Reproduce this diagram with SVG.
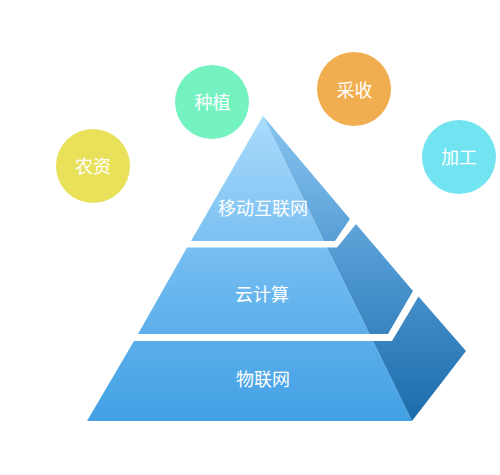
<svg xmlns="http://www.w3.org/2000/svg" width="500" height="475" viewBox="0 0 500 475">
<defs>
<linearGradient id="gFront" gradientUnits="userSpaceOnUse" x1="0" y1="116" x2="0" y2="421">
<stop offset="0" stop-color="#ABDCFC"/>
<stop offset="0.5" stop-color="#70BAF0"/>
<stop offset="1" stop-color="#42A0E4"/>
</linearGradient>
<linearGradient id="gSide" gradientUnits="userSpaceOnUse" x1="0" y1="116" x2="0" y2="421">
<stop offset="0" stop-color="#88C5F1"/>
<stop offset="0.5" stop-color="#4E97D0"/>
<stop offset="1" stop-color="#1B6BAB"/>
</linearGradient>
<style>
.front{fill:url(#gFront)}
.side{fill:url(#gSide)}
.lbl{font-family:"Noto Sans CJK SC","Noto Sans",sans-serif;font-size:18px;fill:#ffffff;text-anchor:middle}
</style>
</defs>
<rect width="500" height="475" fill="#ffffff"/>
<g id="node-nongzi"><circle cx="93" cy="166" r="37" fill="#E9E15A"/><text class="lbl" x="93" y="172.5">农资</text></g>
<g id="node-zhongzhi"><circle cx="212" cy="102" r="37" fill="#74F3C1"/><text class="lbl" x="212.5" y="109">种植</text></g>
<g id="node-caishou"><circle cx="354" cy="89" r="37" fill="#F0AE50"/><text class="lbl" x="354.5" y="97">采收</text></g>
<g id="node-jiagong"><circle cx="459" cy="157" r="37" fill="#72E4F1"/><text class="lbl" x="459" y="164">加工</text></g>
<g id="node-yidong">
<polygon class="front" points="263,116 324,241 191,241"/>
<polygon class="side" points="263,116 350,219 335,241 324,241"/>
<text class="lbl" x="263" y="214.5">移动互联网</text>
</g>
<g id="node-yunjisuan">
<polygon class="front" points="187,247.5 327,247.5 369.5,334 138,334"/>
<polygon class="side" points="327,247.5 337,247.5 356,224 413,291 388,334 369.5,334"/>
<text class="lbl" x="262" y="300.5">云计算</text>
</g>
<g id="node-wulianwang">
<polygon class="front" points="134,341 373,341 412,421 87,421"/>
<polygon class="side" points="373,341 392,341 418.5,296.5 466,351 412,421"/>
<text class="lbl" x="263" y="385.5">物联网</text>
</g>
<g id="connectors"></g>
</svg>
